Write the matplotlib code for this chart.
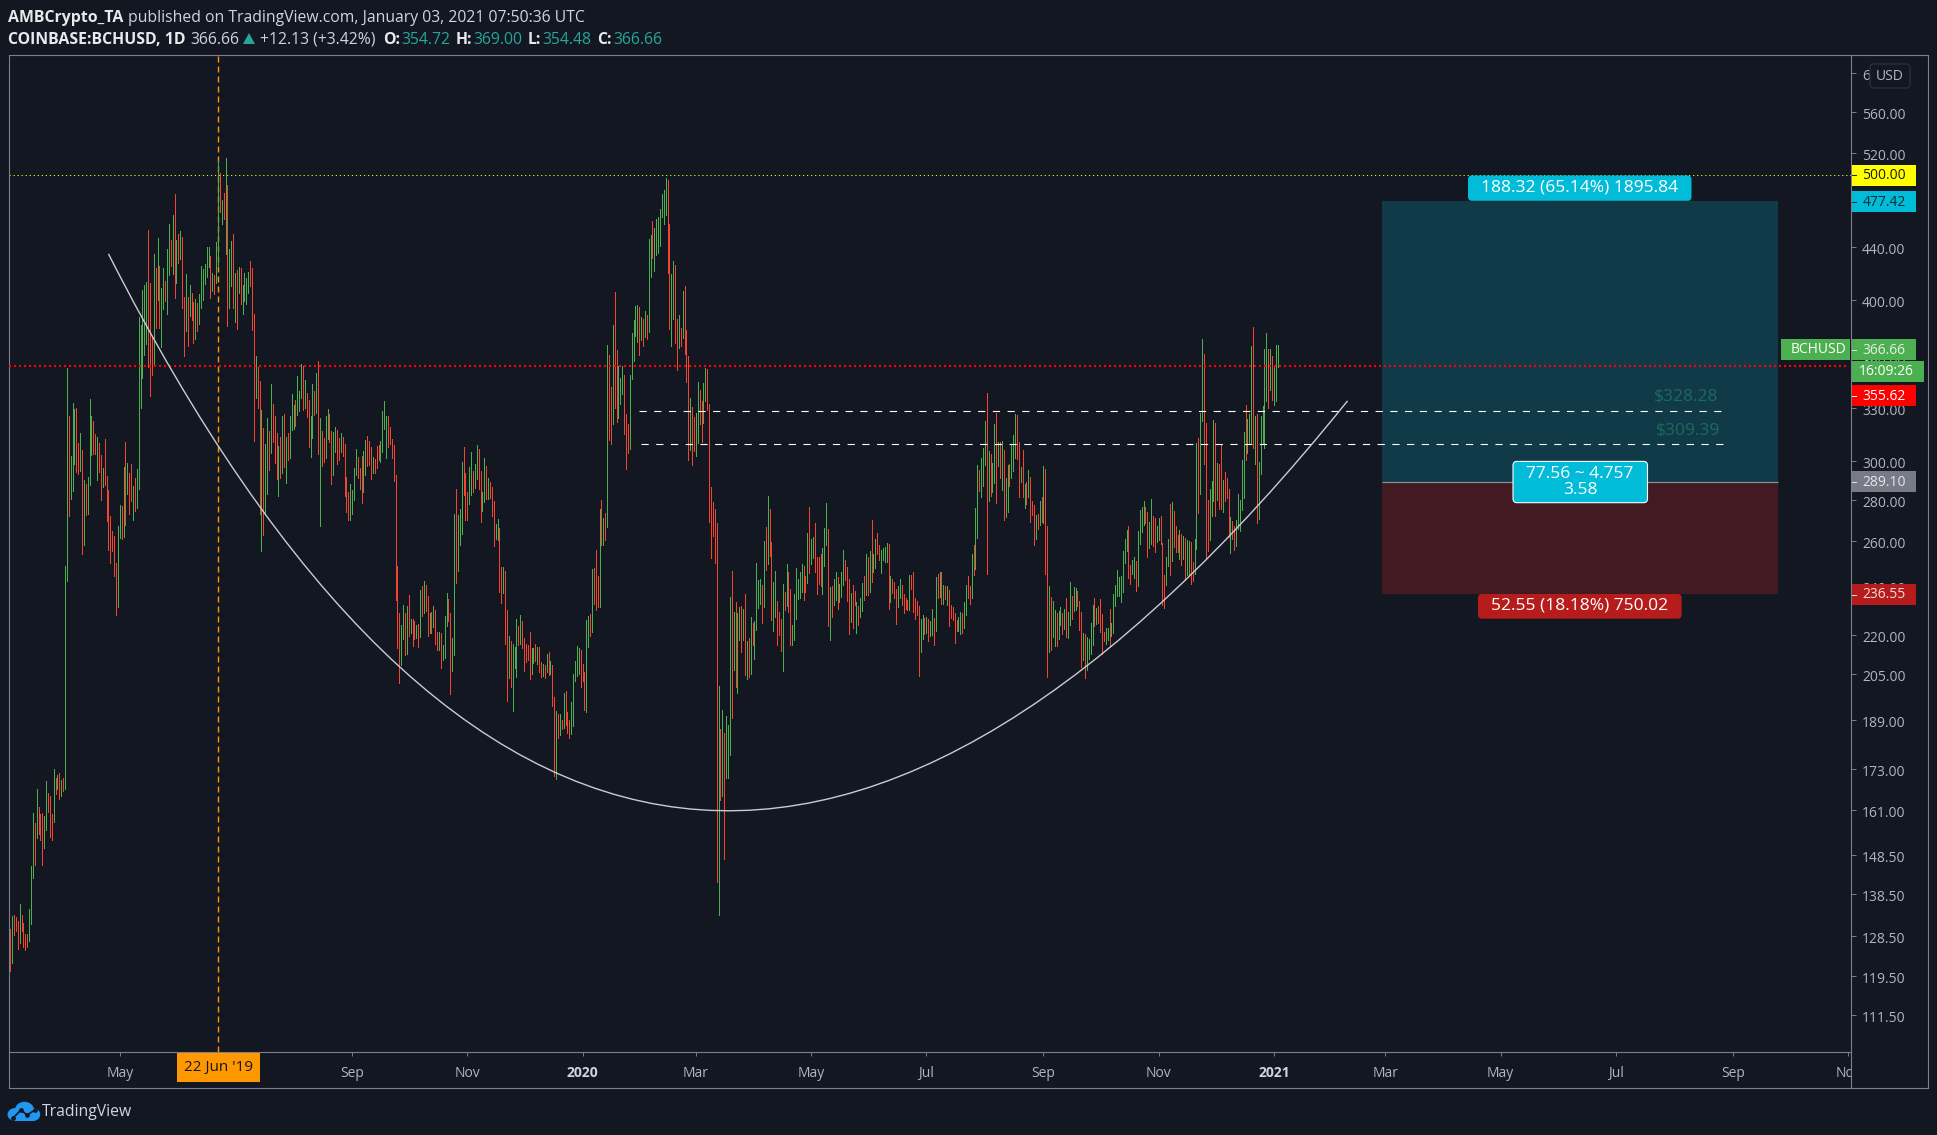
import numpy as np
import pandas as pd
import matplotlib
matplotlib.use("Agg")
import matplotlib.pyplot as plt
import matplotlib.dates as mdates
from matplotlib.lines import Line2D
from matplotlib.patches import Rectangle, FancyBboxPatch, PathPatch, Ellipse, Polygon
from matplotlib.path import Path
from matplotlib.transforms import Affine2D, ScaledTranslation

plt.rcParams['font.family'] = ['Open Sans', 'DejaVu Sans']
plt.rcParams['lines.scale_dashes'] = False

W, H = 1937, 1135
BG = '#131722'
UP = '#4caf50'
DOWN = '#f5442f'
TEAL = '#26a69a'
GRID = '#7d7f86'
TICK = '#b2b5be'

FIRST_DAY = '2019-03-04'

high_a = [130.0,133.2,133.4,132.9,131.9,135.9,133.4,131.4,128.9,128.9,134.7,145.6,160.1,157.1,167.1,161.8,159.8,160.0,159.2,169.3,
          165.7,165.0,159.8,173.2,170.3,171.3,172.0,169.6,170.3,249.0,354.4,325.3,302.6,332.9,329.4,330.1,309.9,315.7,306.0,290.3,
          288.2,291.8,335.3,325.3,322.5,315.0,313.4,309.9,303.6,296.4,312.3,292.2,284.8,272.0,264.7,262.4,250.2]
low_a = [120.6,122.5,128.6,129.6,125.4,126.8,129.6,125.9,125.3,125.9,127.3,131.2,142.5,145.9,153.0,154.0,152.6,145.9,150.4,155.2,
         160.4,153.3,152.6,157.5,165.4,166.9,164.2,165.0,166.4,167.1,242.4,272.1,280.3,284.4,298.6,294.5,293.0,294.7,254.2,258.3,
         272.7,273.0,287.8,303.6,304.1,304.1,289.9,294.3,280.0,286.5,287.8,269.5,256.0,250.0,255.7,244.3,227.9]
dir_a = "rgrrrgrrrr" "gggrgrrrgg" "rrrgrgrgrg" "grgggrrgrg" "rgggrrgrrg" "rrrrrrr"

high_b = [267,277.4,277,297,310.7,299,293.6,298.5,287,291,296,388.5,382.7,407.5,411,413,453.5,412.5,375,434.3,
          423.8,447,425.3,409,423.6,414,438.5,458.5,445.6,466,483.6,445.6,450,452.7,448,402.4,419.3,402.4,411,405.3,
          398.8,401,398.3,404.5,425.3,423,426.9,440,440,433,420,418.6,444,514,502,478.6,484.4,516,491.6,438.5,
          444.8,450,420,422.3,424.5,423.8,411,420,416.4,420.8,429,423.8,390,362,354.8,346.3,329,318.4,309.4,324,
          316.6,344.5,332.4,325.3,315.5,308.2,313.3,325.3,326.4,313.3,315.5,325.3,338.4,331.8,334.8,349.4,340.2,357,355.7,347,
          339,334.8,325.3,344.5,340.2,351.3]
low_b = [231.3,261.4,261,262,267.7,283,273,279.5,270,274.5,276,285.5,329.8,348,362.8,370,355,337,350,356.4,
         380.5,400,380.5,368,394,399.4,390.4,418.6,425.3,419,401.7,412.4,427.8,430.7,394.6,362,378.7,368.7,389,386.3,
         370.8,373.3,378.7,383.4,394.6,400,412,417.3,424.7,401.7,406.6,404.5,412.6,426.3,468.4,458.5,462.6,434.5,382,394.6,
         410.5,394.6,384.8,380,405.3,397.4,390.4,399.4,397.4,405.3,410.5,379.4,311,336,330,273,255.5,263,273,283,
         295.4,304.5,310.5,299,290.6,282,291,293.8,297,288.4,300.7,301.8,317.3,317.8,319.5,326,328.4,336,329,330,
         324.7,307.8,302.3,312.7,326,327]
dir_b = "ggrgrgrrgr" "ggggggrrrg" "rgrggrggrg" "rgrgrrgrgr" "rgrggggggr" "grggrgrgrg" "grgrgrgggg" "rrrgrrgrgg" "rgrrrgrgrg" "rgggrgggrg" "rrggrg"

high_c = [358.9,324.2,316.8,312.8,325.4,329.4,326.5,316.8,316.2,319.1,317.4,312.8,315.7,313.4,309.5,291.9,284,288.2,285.2,296.5,
          306.8,302.5,296.5,303,305.7,311.7,313.9,311.1,307.9,302.5,301.4,308.4,309,310.8,328.2,334.2,325.4,325.4,319.1,312.2,
          309,292.9,249,228.6,224.1,231.9,228.6,231.5,236.4,226.5,226.5,225.7,224.1,224.5,238.5,240.2,242.4,240.6,236,228.6,
          229,231.5,229.8,221.1,221.1,220.7,216.1,227.4,237.1,234.7,228.6,218.7,273.1,285.7,272.6,275.5,299.7,307.9,293.6,284,
          297,305,294.6,298.3,309,306.8,294.6,284,301.9,297.6,291.3,289.3,286.4,279.6,268.1,270.4,266.3,248.5,248.5,246.7,
          229.8,219.5,217.5,216.5,215.1,226.5,223.4,227.8,225.7,218.7,216.5,216.1,221.1,214.9,214.7,216.5,215.4,215.4,209.5,208.9,
          208.5,212.7,213.5,210.1,208.5,197,192.1,191.1,191.1,188.8,198.2,198.9,191.7,189.1,195.1,205.1,210.1,215.7,214.9,214,
          208.9,205.7,226.1,227.4,228.2,247.6,248,255.9]
low_c = [304,267,297.6,299.7,301.9,312.2,310.6,288.2,292.9,305,298.6,300.8,305,302.9,282.1,274.1,270.3,270.3,272.9,280.1,
         292.9,291.3,285.7,278.6,284,292.9,297.6,298.1,290.7,294,294,296.5,300.8,299.7,305,318,301.9,307.9,309.5,301.9,
         289.5,234.3,214.7,201.8,208.3,218.2,212.1,212.5,219.5,220.6,215.7,218.2,218.7,215.1,219.1,227.4,228.6,229.4,219.5,220.6,
         220.6,223,216.5,214,214,207.5,210.5,210.9,223.7,225.7,197.8,206.4,212.1,241.5,246.4,258.5,263.6,282.6,269.9,269.9,
         278.1,282.6,284,286.2,290.7,285.7,269,274.6,279.1,280.6,280.6,281.1,272.2,257.7,260.9,260.4,237.7,232.8,237.2,216.5,
         195.3,203.5,200.6,192,207.5,203.9,216,216.5,214.7,206.4,209.7,210.5,203.2,205.2,209.1,210.1,208.9,205.9,203.9,204.3,
         203.5,205.9,204.7,205.1,193.6,171,170.1,183,183.9,185.8,186.4,187.4,184.5,183,184.2,186.8,202.5,204.3,205.1,200.6,
         202.5,192.4,191.5,215.1,219.6,221.3,232.4,229.8]
dir_c = ("rgrrggrrgg" "rrgrrrrggg" "grrrggrrrg" "rrrggggrrr" "rrrrggrgrg" "rrgrgrgrrg" "rgrrgrgggr" "rggrgggrrr"
         "ggrggrrggr" "grrrggrrgr" "rgrgggrgrr" "rrrggrgrrg" "rgrgrrgrgr" "grrrgggggr" "rrggrgrr")

high_d = [244.2,275.6,280,271.3,273.4,369.2,363,342.4,383,405.8,366.3,355.4,348.4,355.7,350.2,326.5,320.8,350.2,377.1,385.8,
          396,396.7,395,388.1,386.8,392.2,389.4,446,449.2,460.7,455.2,462.5,464.2,471,483.5,487,497.6,495.6,458.1,419.2,
          429,425.7,386.8,389.7,380.7,406.9,410.2,379.4,362.4,336.1,330.4,324.8,326.9,345.5,340.7,334.3,345.2,354.2,353.6,332.1,
          286.6,278.9,275.6,268.5,200.8,185.8,192.5,184.5,190.3,187.2,235.5,246.6,229.2,233.4,228.9,231.4,231.6,230.2,236.5,217.7,
          218.7,227.3,224.6,225.4,250.3,242.6,243.1,240.6,260.3,266.9,281.7,275.6,259.8,241.8,246.6,233.8]
low_d = [231.4,231.2,258.3,258.2,260.5,266.6,311.7,309.6,320.8,329.8,321.9,324.1,332.1,338.4,314.9,296,304.5,306.9,347.2,359,
         375.4,371,363,372.9,368.7,374.4,373.3,377.9,417.2,431.1,421.6,433.8,435.4,440.8,464.2,458.6,466.2,420.2,380,368.4,
         386.5,370.9,353,367.1,368.4,373.9,363.6,345.8,300.9,306.3,298,305.3,302.9,309.8,320.5,310.6,321.1,334.3,328.9,269.2,
         252.5,262.7,250.3,141.4,133.4,163.7,165,147.3,170.2,170.2,177.6,189.7,206.6,200.4,198.4,218.1,213.2,217.9,204.6,203.2,
         204.2,205.3,216.2,210.6,222.1,230.9,232.6,224.6,231.4,247.1,249.7,253.4,225.8,221.7,227.1,216.2]
dir_d = "rgrgrgrrgr" "rgggrrrggg" "ggrgrgrggr" "gggggggrrg" "grrgrgrrrg" "rrggrrggrr" "rrrrgrgrgg" "grgrggrgrg" "rgrggggrgr" "grrggr"

high_e = [229.2,226.4,240.9,237.6,249.9,246,238.9,224.1,236.8,247.7,242.9,246.3,249.9,248.6,244.2,264.1,276.6,261.3,262.2,268.7,
          253,253,254.4,257.1,266.4,278.4,266,239.5,239.9,242.9,246.3,243.8,240.9,246.3,256.2,251.3,248.2,243.3,237.2,240.5,
          238,233.5,231.8,235.1,241.3,244.2,254,253,255.7,270.2,254.4,261.3,264.1,258.5,256.2,257.1,257.6,259.4,258.9,244.2,
          242.9,241.6,238.9,239.9,243.3,240.5,236.8,235.1,234.3,244.7,244.7,246,235.1,233.9,231.8,226.4,227.9,226.8,227.3,226.4,
          225.6,230.6,226.8,243.8,245.1,246.3,246,240.5,239.9,239.9,238.5,232.2,231.2,228.6,226,227.1,229.3,228.9,233.1,240.5,
          244.2,239.9,254.4,258.5,276.2,298.1,295.4,301.8,307.4,322.5,339,305.3,303.7,299.3,320.6,327.1,310.4,310.4,310.9,306.3,
          291,298.1,298.6,309.6,314.6,326.5,326,310.4,297.2,305.9,288.3,288.9,295.4,291.8,279.2,277.3,272.6]
low_e = [220.1,213.9,206.4,229.8,231.8,229.3,215.9,215.9,217.8,226.4,234.7,235.1,237.6,234.3,237.6,241.3,245.7,249.9,252.6,246.3,
         236.8,240.9,240,236.8,248.6,258.5,223.7,217.8,227.3,232.2,234.3,230.2,233.5,235.5,240.5,242.5,233.9,220.5,225.2,222.9,
         232.2,220.9,224.1,227.3,229.4,234.3,236.4,236.4,237.6,241.8,246.3,247.7,254.4,251.3,245.7,251.7,250.4,250.8,230.6,233.1,
         237.2,235.1,224.5,231.2,235.1,232.2,228.6,230.2,229.8,229.8,238.9,229.3,226.4,227.9,204.3,213.5,218.2,220.5,220.9,217.4,
         219.7,220.1,215.9,221.7,235.1,235.5,232.6,232.6,234.7,232.2,223.7,226.8,226,216.9,221.7,221.7,220.5,220.9,222.9,227.9,
         235.1,232.6,235.1,244.7,247.3,261.7,284.6,281.2,287.1,298.1,245.3,279.5,281.7,284.1,288.4,278.4,297.7,291.4,285,270.2,
         271.5,274.1,287.1,291,294.6,301.8,301.2,281.2,288.9,281.2,276.2,278,281.5,269.1,272.4,258.5,261.3]
dir_e = ("rrgrgrrggg" "gggrrgrggr" "rrrgggrgrg" "grgggrrrgr" "rgrggrgrgr" "ggrrggggrg" "rrrggrrrrg" "rrrrrggrgr"
         "ggrgrgrgrg" "rrrrrggrgg" "rrgrggrggg" "rgrggrgrgr" "ggrgggrrgr" "grgrrrg")

high_f = [273.1,279.4,281.4,297.6,296,267,240.2,235.5,233.8,230.1,228.9,229.7,231.3,228.9,230.5,235.1,229.3,241.9,235.9,239.8,
          239.3,238.1,233.8,229.3,220.8,220.4,219.2,218.4,224.8,232.1,235.1,231,231.7,234.7,228.5,221.2,222.8,222.8,230.5,224.8,
          236.7,240.6,247,244,244.4,255.6,261.2,265.4,267,249.2,251.5,252.8,251.2,265,275.2,276.6,279.2,276.6,274.2,269,
          280.6,272.1,271.1,267,271.1,272.1,259.3,245,252.8,261.2,277.9,278.9,274.7,267,263.2,265.4,263.6,262.6,261.7,260.6,
          260.2,259.7,250.4,261.2,309.9,312.7,327.1,373.2,363.4,321.4,280,285.5,289.6,323,321.4,299.3,298.8,308.6,290.3,294.4,
          291.2,285.5,271.6,269.6,267.3,270.2,283.1,280,300.7,315.9,331.7,323.5,326.4,368.6,381.4,325.4,326.4,299.7,325.4,331.4,
          366.7,377.3,366.7,366.7,362.2,356.5,369.6,369.6]
low_f = [265.9,267.8,269.2,268.8,245.3,204,213.4,214.1,219.2,215.7,215.7,218.4,224,220.4,222.4,219.2,218.8,224,226.4,229.7,
         230.1,231.7,222,207.8,210.4,203.7,206.7,210.8,212.6,216.1,223.6,224.4,224.8,221.2,212.6,217.6,216.5,218,215.4,219.6,
         220.8,231.7,235.9,235.9,233.4,237.6,250.2,255.6,243.6,241,245.4,243.6,238.1,240.2,258.9,264.4,267.8,268.5,252.8,256.9,
         258.9,258,255.2,259.7,260.6,258.9,232.1,231,240.6,248.8,245,251.2,257.6,255.2,255.2,252.1,249.2,252.1,242.7,245,
         245,241,242.4,245.4,256.6,273.4,283.1,322.6,298.4,252.5,255.6,260.6,272.1,279.4,272.1,279.9,275.4,275.4,274.2,279.6,
         280.8,262.1,254.7,261.2,255.9,258,265.9,265,275.2,281,300.8,304.5,309.9,309.9,307.1,298.8,268.5,270.6,293,309.9,
         307.1,334.1,330,340.7,334.5,331.6,334.1,354.9]
dir_f = ("rgrgrrgrgg" "rggrgrggrg" "grrrgrgggg" "rgrrrrggrg" "ggggggggrr" "ggrggggrrg" "grrggrrrgg" "rgrrrgrgrg"
         "grrggrggrr" "rgggrgrrgr" "rrgrrggggg" "rgggrgrggg" "ggrgrggg")

y_ticks = [600, 560, 520, 480, 440, 400, 360, 330, 300, 280, 260, 240, 220, 205, 189, 173, 161, 148.5, 138.5, 128.5, 119.5, 111.5]
y_labels = ['6', '560.00', '520.00', '', '440.00', '400.00', '360.00', '330.00', '300.00', '280.00', '260.00', '240.00',
            '220.00', '205.00', '189.00', '173.00', '161.00', '148.50', '138.50', '128.50', '119.50', '111.50']
x_tick_dates = ['2019-05-01', '2019-07-01', '2019-09-01', '2019-11-01', '2020-01-01', '2020-03-01', '2020-05-01', '2020-07-01',
                '2020-09-01', '2020-11-01', '2021-01-01', '2021-03-01', '2021-05-01', '2021-07-01', '2021-09-01', '2021-11-01']
x_tick_labels = ['May', '', 'Sep', 'Nov', '2020', 'Mar', 'May', 'Jul', 'Sep', 'Nov', '2021', 'Mar', 'May', 'Jul', 'Sep', 'Nov']

resistance = 500.0
last_line = 355.62
marked_day = '2019-06-22'
levels = [328.28, 309.39]
level_starts = ['2020-01-31', '2020-02-01']
level_ends = ['2021-08-27', '2021-08-28']
target, entry, stop = 477.42, 289.10, 236.55
pos_start, pos_end = '2021-02-27', '2021-09-25'
curve_dates = ['2019-04-25', '2020-01-28', '2021-02-09']
curve_prices = [434.6, 68.4, 334.2]

high = np.array(high_a + high_b + high_c + high_d + high_e + high_f)
low = np.array(low_a + low_b + low_c + low_d + low_e + low_f)
dirs = dir_a + dir_b + dir_c + dir_d + dir_e + dir_f
days = mdates.date2num(pd.date_range(FIRST_DAY, periods=len(high), freq='D').to_pydatetime())
num = lambda s: mdates.date2num(pd.Timestamp(s).to_pydatetime())

fig = plt.figure(figsize=(W / 100, H / 100), dpi=100, facecolor=BG)
L, R, T, B = 8.5, 1851, 55, 1052
ax = fig.add_axes([L / W, 1 - B / H, (R - L) / W, (B - T) / H], facecolor=BG)
ax.set_yscale('log')
ax.set_ylim(104.4, 620)
base = num('2020-01-01')
ax.set_xlim(base - 303.9, base + 671.5)

colors = [UP if c == 'g' else DOWN for c in dirs]
ax.vlines(days, low, high, colors=colors, linewidth=0.5, zorder=3, antialiased=False)

# position tool
ax.fill_between([num(pos_start), num(pos_end)], entry, target, color='#103a48', lw=0, zorder=1)
ax.fill_between([num(pos_start), num(pos_end)], stop, entry, color='#431a22', lw=0, zorder=1)
ax.hlines(entry, num(pos_start), num(pos_end), color='#8a8d96', lw=0.9, zorder=1.5)

# lines
ax.axhline(resistance, color='#e8e81a', lw=0.72, ls=(0, (0.9, 2.0)), zorder=2, dash_capstyle='butt')
ax.plot([ax.get_xlim()[0], base + 670], [last_line] * 2, color='#ff0000', lw=1.5, ls=(0, (1.5, 2.1)), zorder=4,
        dash_capstyle='butt')
ax.axvline(num(marked_day), color='#ff9800', lw=1.0, ls=(0, (4.3, 2.9)), zorder=2, dash_capstyle='butt')
for lv, s, e in zip(levels, level_starts, level_ends):
    ax.plot([num(s), num(e)], [lv, lv], color='white', lw=0.8, ls=(0, (5.2, 5.4)), zorder=4, dash_capstyle='butt')

curve = Path(list(zip([num(d) for d in curve_dates], curve_prices)), [Path.MOVETO, Path.CURVE3, Path.CURVE3])
ax.add_patch(PathPatch(curve, fc='none', ec='#c9ccd4', lw=1.0, zorder=5, transform=ax.transData))

# axes
for s in ax.spines.values():
    s.set_color(GRID)
    s.set_linewidth(0.8)
ax.yaxis.tick_right()
ax.set_yticks(y_ticks)
ax.set_yticklabels(y_labels, fontsize=10, color=TICK)
ax.yaxis.set_minor_locator(matplotlib.ticker.NullLocator())
ax.tick_params(axis='y', length=3.6, width=0.7, color=GRID, pad=4.5)
ax.set_xticks([num(d) for d in x_tick_dates])
ax.set_xticklabels(x_tick_labels, fontsize=10, color=TICK)
ax.tick_params(axis='x', length=3, width=0.7, color=GRID, pad=7.2)
shift = ScaledTranslation(0, -1.5 / 100, fig.dpi_scale_trans)
for tk in ax.yaxis.get_major_ticks():
    tk.label2.set_transform(tk.label2.get_transform() + shift)
for t in ax.get_xticklabels():
    if t.get_text() in ('2020', '2021'):
        t.set_fontweight('bold')
        t.set_color('#d1d4dc')

# pixel-space overlay
TP = Affine2D().scale(1, -1).translate(0, H)

def rect(x0, y0, x1, y1, fc, z=5):
    fig.add_artist(Rectangle((x0, y0), x1 - x0, y1 - y0, fc=fc, ec='none', transform=TP, zorder=z))

def rbox(x0, y0, x1, y1, fc, ec='none', z=5, r=4, lw=0.8):
    fig.add_artist(FancyBboxPatch((x0 + r, y0 + r), x1 - x0 - 2 * r, y1 - y0 - 2 * r,
                                  boxstyle=f'round,pad={r},rounding_size={r}', fc=fc, ec=ec, lw=lw, transform=TP, zorder=z))

def txt(x, y, s, color='#d1d4dc', size=10, ha='center', weight='normal', z=6, va='center'):
    fig.text(x, y + 1, s, color=color, fontsize=size, ha=ha, va=va, fontweight=weight, transform=TP, zorder=z)

def line(x0, y0, x1, y1, color=GRID, lw=0.8, z=4):
    fig.add_artist(Line2D([x0, x1], [y0, y1], color=color, lw=lw, transform=TP, zorder=z))

# hide clipped part of last month label, then outer frame
rect(R + 0.5, B + 1, 1927.5, 1087.5, BG, z=3)
line(R, T, 1928, T)
line(1928, T, 1928, 1088)
line(L, 1088, 1928, 1088)
line(L, B, L, 1088)
line(R, B, R, 1088)

# date tag
rect(177, 1053, 259.5, 1081.7, '#ff9800')
txt(218.3, 1066, "22 Jun '19", color='#131722', size=11)

# position tool labels
PS = 12.5
rbox(1468, 175.5, 1691.5, 200.8, '#00bcd9')
txt(1580, 187, '188.32 (65.14%) 1895.84', color='white', size=PS)
rbox(1513, 461.4, 1647.5, 502.7, '#00bcd9', ec='white')
txt(1580, 472.5, '77.56 ~ 4.757', color='white', size=PS)
txt(1580, 489, '3.58', color='white', size=PS)
rbox(1478, 594, 1681.6, 618.7, '#b71c1c')
txt(1580, 605, '52.55 (18.18%) 750.02', color='white', size=PS)
txt(1718, 396, '$328.28', color='#1c6b5c', size=PS, ha='right')
txt(1720, 429, '$309.39', color='#1c6b5c', size=PS, ha='right')

# price tags
def tag(yc, s, fc, tc, x1=1915.7):
    rect(R + 0.5, yc - 10.5, x1, yc + 10.5, fc)
    line(R + 1, yc, R + 5, yc, color=tc, lw=0.7, z=6)
    txt(1884, yc - 0.5, s, color=tc, size=10)

tag(175, '500.00', '#ffff00', '#1a1a10')
tag(201.5, '477.42', '#00bcd9', '#0f2a33')
tag(349.5, '366.66', UP, '#e8f0e8')
rect(1781, 339, 1850, 360, UP)
txt(1818, 348.5, 'BCHUSD', color='white', size=10)
rect(R + 1, 361, 1923.5, 382, UP)
txt(1886, 370.5, '16:09:26', color='white', size=10)
tag(395.5, '355.62', '#ff0000', 'white')
tag(481.5, '289.10', '#787b86', '#e5e6ea')
tag(594.5, '236.55', '#b71c1c', '#f0dcdc')

# USD
rbox(1870, 64, 1910, 88, BG, ec='#2a2e39', r=4, lw=1.0)
txt(1890, 75, 'USD', color=TICK, size=10)

# header
HS = 11.3
txt(8, 16.5, 'AMBCrypto_TA', color='#e8e9ec', size=11.4, ha='left', weight='bold')
txt(128, 16.5, 'published on TradingView.com, January 03, 2021 07:50:36 UTC', color='#d1d4dc', size=HS, ha='left')
txt(8, 38.5, 'COINBASE:BCHUSD, 1D', color='#e8e9ec', size=11.4, ha='left', weight='bold')
txt(190, 38.5, '366.66', color='#d1d4dc', size=HS, ha='left')
fig.add_artist(Polygon([(243, 44), (255, 44), (249, 33)], fc=TEAL, ec='none', transform=TP, zorder=6))
txt(260, 38.5, '+12.13 (+3.42%)', color='#d1d4dc', size=HS, ha='left')
for xl, s, xv, v in [(383, 'O:', 401, '354.72'), (456, 'H:', 473, '369.00'), (528, 'L:', 542, '354.48'), (597, 'C:', 613, '366.66')]:
    txt(xl, 38.5, s, color='#e8e9ec', size=HS, ha='left', weight='bold')
    txt(xv, 38.5, v, color=TEAL, size=HS, ha='left')

# logo
for (cx, cy, w, h) in [(15.5, 1114.5, 16, 13), (24.5, 1110, 19, 16.5), (33, 1114.5, 14.5, 13)]:
    fig.add_artist(Ellipse((cx, cy), w, h, fc='#2196f3', ec='none', transform=TP, zorder=6))
rect(15, 1113, 33, 1121, '#2196f3', z=6)
fig.add_artist(Line2D([13, 21, 27, 35], [1118, 1110, 1115, 1110], color=BG, lw=1.2, marker='o', ms=2.4, mec=BG, mfc=BG,
                      transform=TP, zorder=7))
txt(42, 1111, 'TradingView', color='#d1d4dc', size=11.3, ha='left')

fig.savefig('out.png', dpi=100, facecolor=BG)
